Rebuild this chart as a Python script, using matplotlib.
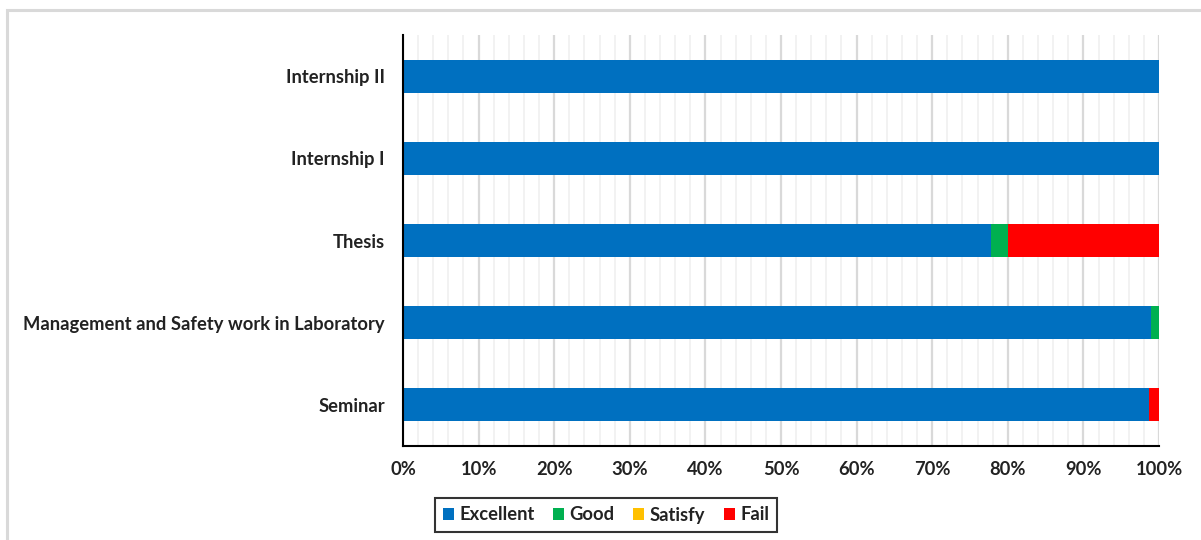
import matplotlib
matplotlib.use("Agg")
import matplotlib.pyplot as plt
from matplotlib.ticker import MultipleLocator, PercentFormatter
from matplotlib.patches import Rectangle

courses = ["Seminar", "Management and Safety work in Laboratory", "Thesis", "Internship I", "Internship II"]
excellent = [98.7, 98.9, 77.8, 100.0, 100.0]
good = [0.0, 1.1, 2.2, 0.0, 0.0]
satisfy = [0.0, 0.0, 0.0, 0.0, 0.0]
fail = [1.3, 0.0, 20.0, 0.0, 0.0]
series_names = ["Excellent", "Good", "Satisfy", "Fail"]
colors = ["#0070C0", "#00B050", "#FFC000", "#FF0000"]

plt.rcParams['font.family'] = ['Lato', 'DejaVu Sans']

fig = plt.figure(figsize=(12.01, 5.4), dpi=100)
ax = fig.add_axes([403/1201, 1-446/540, (1159-403)/1201, (446-35)/540])

# outer chart frame (light gray)
fig.patches.append(Rectangle((7/1201, -0.1), 1.2, 1-10/540+0.1, transform=fig.transFigure,
                             fill=False, edgecolor="#d9d9d9", linewidth=2.2, zorder=0))

y = list(range(len(courses)))
left = [0.0]*len(courses)
for name, vals, c in zip(series_names, [excellent, good, satisfy, fail], colors):
    ax.barh(y, vals, left=left, height=0.4, color=c, label=name, zorder=3)
    left = [l+v for l, v in zip(left, vals)]

ax.set_xlim(0, 100)
ax.set_ylim(-0.5, 4.5)
ax.set_yticks(y)
ax.set_yticklabels(courses, fontsize=13.2, fontweight="bold", color="#222222")
ax.xaxis.set_major_locator(MultipleLocator(10))
ax.xaxis.set_minor_locator(MultipleLocator(2))
ax.xaxis.set_major_formatter(PercentFormatter(decimals=0))
for lab in ax.get_xticklabels():
    lab.set_fontweight("bold")
ax.tick_params(axis="x", which="both", length=0, pad=11, labelsize=13.2, labelcolor="#222222")
ax.tick_params(axis="y", length=0, pad=13)
ax.grid(axis="x", which="major", color="#d9d9d9", linewidth=1.6, zorder=0)
ax.grid(axis="x", which="minor", color="#f2f2f2", linewidth=1.4, zorder=0)
ax.set_axisbelow(True)
for s in ["top", "right"]:
    ax.spines[s].set_visible(False)
for s in ["left", "bottom"]:
    ax.spines[s].set_color("black")
    ax.spines[s].set_linewidth(1.5)
    ax.spines[s].set_zorder(4)

leg = fig.legend(loc="center", bbox_to_anchor=(606/1201, 1-515/540), ncol=4, frameon=True,
                 fancybox=False, edgecolor="black", handlelength=0.6, handleheight=0.6,
                 handletextpad=0.3, columnspacing=1.0, borderpad=0.45,
                 prop={"weight": "bold", "size": 13.2})
leg.get_frame().set_linewidth(1.5)
for t in leg.get_texts():
    t.set_color("#222222")

fig.savefig("out.png", dpi=100, facecolor="white")
